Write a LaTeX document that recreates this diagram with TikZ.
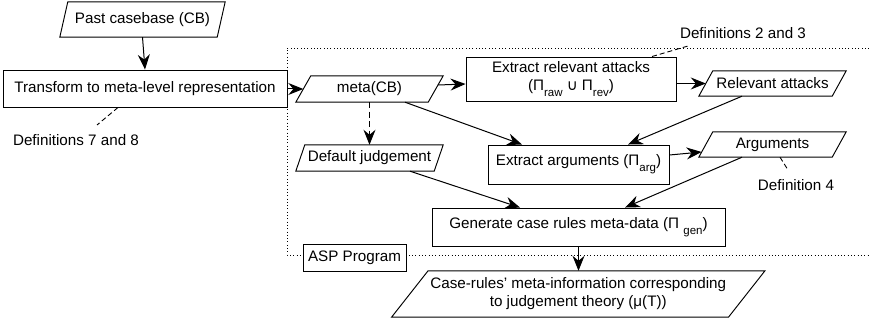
\documentclass[tikz,border=0pt]{standalone}
\usepackage{fontspec}
\setmainfont{Liberation Sans}
\newfontfamily\symfont{DejaVu Sans}
\usetikzlibrary{arrows.meta,calc}
% lowered index after a Pi, and the union sign
\newcommand{\lowsub}[1]{\raisebox{-6pt}{\fontsize{11.5}{12}\selectfont #1}}
\newcommand{\setunion}{{\symfont\fontsize{15}{15}\selectfont ∪}}

\begin{document}
\begin{tikzpicture}[x=1pt,y=-1pt,
  every node/.style={font=\fontsize{15.2}{18}\selectfont},
  proc/.style={draw, line width=0.95pt, inner sep=0pt, align=center},
  data/.style={inner sep=0pt, align=center},
  link/.style={line width=1pt, -{Stealth[length=15pt,width=12pt,inset=5pt]}},
  note/.style={line width=0.9pt, dash pattern=on 5pt off 3pt},
  frame/.style={line width=0.8pt, dash pattern=on 0.8pt off 2.5pt},
  lbl/.style={inner sep=1pt}]
\useasboundingbox (0,0) rectangle (869,326);

% ASP program frame (open on the right)
\draw[frame] (869,48) -- (287,48) -- (287,255) -- (869,255);

% process boxes and data items
\node[data, minimum width=157pt, minimum height=35pt] (pcb) at (142.5,19.5) {Past casebase (CB)};
\node[proc, minimum width=284pt, minimum height=37pt] (tr) at (145,88.5) {Transform to meta-level representation};
\node[data, minimum width=132pt, minimum height=26pt] (meta) at (369.5,89) {meta(CB)};
\node[proc, minimum width=210pt, minimum height=44pt] (era) at (571,79) {Extract relevant attacks\\(Π\lowsub{raw} \setunion{} Π\lowsub{rev})};
\node[data, minimum width=133pt, minimum height=25pt] (ra) at (772.5,83.5) {Relevant attacks};
\node[data, minimum width=138pt, minimum height=26pt] (dj) at (369.5,158) {Default judgement};
\node[proc, minimum width=181pt, minimum height=39pt] (ea) at (578.5,164.5) {Extract arguments (Π\lowsub{arg})};
\node[data, minimum width=133pt, minimum height=25pt] (args) at (772.5,144.5) {Arguments};
\node[proc, minimum width=293pt, minimum height=38pt] (gen) at (578.5,227) {Generate case rules meta-data (Π \lowsub{gen})};
\node[proc, fill=white, minimum width=103pt, minimum height=27pt] (asp) at (354.5,257.5) {ASP Program};
\node[data, minimum width=336.5pt, minimum height=46pt] (out) at (578.25,294) {Case-rules' meta-information corresponding\\to judgement theory (μ(T))};

% slanted outlines of the data items
\foreach \n/\s in {pcb/8, meta/15, ra/14, dj/9, args/14, out/36.5}
  \draw[line width=0.95pt]
    ($(\n.north west)+(\s/2,0)$) -- ($(\n.north east)+(\s/2,0)$) --
    ($(\n.south east)-(\s/2,0)$) -- ($(\n.south west)-(\s/2,0)$) -- cycle;

% annotations
\node[lbl] (d78) at (76,140) {Definitions 7 and 8};
\node[lbl] (d23) at (743,33) {Definitions 2 and 3};
\node[lbl] (d4) at (796,185) {Definition 4};
\coordinate (c78) at (97,125);
\coordinate (c23) at (688,46);
\coordinate (c4) at (788,170);
\draw[note] ($(tr.south)+(-27,0)$) -- (c78);
\draw[note] ($(era.north)+(81,0)$) -- (c23);
\draw[note] ($(args.south)+(7.5,0)$) -- (c4);

% flow
\draw[link] (pcb.south) -- (tr.north);
\draw[link] (tr.east |- meta.west) -- (meta.west);
\draw[link] ($(meta.east)+(2.3,-4)$) -- ($(era.west)+(0,5)$);
\draw[link] (ra.west -| era.east) -- (ra.west);
\draw[link] ($(ra.south)+(-30.5,0)$) -- ($(ea.north)+(49.5,0)$);
\draw[link] ($(meta.south)+(35.5,0)$) -- ($(ea.north)+(-56.5,0)$);
\draw[link, dash pattern=on 6pt off 3.5pt] (meta.south) -- (dj.north);
\draw[link] ($(dj.south)+(40.5,0)$) -- ($(gen.north)+(-58.5,0)$);
\draw[link] ($(ea.east)+(0,-9.5)$) -- ($(args.west)+(-4.2,7.5)$);
\draw[link] ($(args.south)+(-30.5,0)$) -- ($(gen.north)+(46.5,0)$);
\draw[link] (gen.south) -- (gen.south |- out.north);
\end{tikzpicture}
\end{document}
